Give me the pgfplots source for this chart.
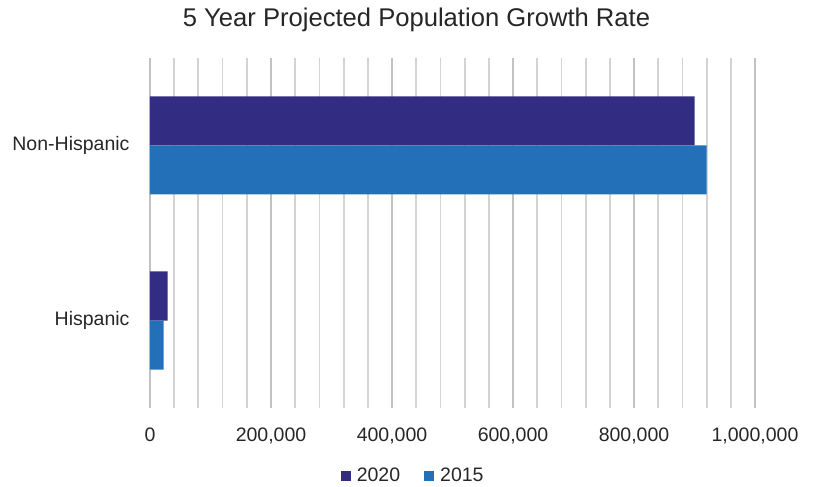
\documentclass[border=0pt]{standalone}
\usepackage{pgfplots}
\pgfplotsset{compat=1.18}
\usepackage{fontspec}
\setmainfont{Liberation Sans}
\definecolor{c2020}{HTML}{332C83}
\definecolor{c2015}{HTML}{2470B8}
\definecolor{txt}{HTML}{262626}
\definecolor{gmaj}{HTML}{C2C2C2}
\definecolor{gmin}{HTML}{D3D3D3}
\begin{document}
\begin{tikzpicture}
\path[use as bounding box] (0,0) rectangle (815pt,487pt);
\node[anchor=base, font=\fontsize{25.6}{30}\selectfont, text=txt] at (416.5pt,460pt) {5 Year Projected Population Growth Rate};
\begin{axis}[
  at={(150pt,79pt)}, anchor=south west,
  scale only axis, width=605pt, height=350pt,
  xbar, bar width=49pt,
  xmin=0, xmax=1000000, ymin=-0.5, ymax=1.5, y dir=reverse,
  ytick={0,1}, yticklabels={Non-Hispanic,Hispanic},
  xtick={0,200000,400000,600000,800000,1000000},
  xticklabels={0,{200,000},{400,000},{600,000},{800,000},{1,000,000}},
  minor x tick num=4,
  scaled x ticks=false,
  tick label style={font=\fontsize{19.5}{23}\selectfont, text=txt},
  xticklabel style={yshift=-16pt},
  yticklabel style={xshift=-17pt},
  major tick length=0pt, minor tick length=0pt,
  axis line style={draw=none},
  xmajorgrids, xminorgrids,
  major grid style={gmaj, line width=2pt},
  minor grid style={gmin, line width=1.8pt},
  legend columns=2,
  legend style={at={(0.435,-0.194)}, anchor=center, draw=none, fill=none,
    font=\fontsize{19.5}{23}\selectfont, text=txt,
    /tikz/every odd column/.append style={column sep=4pt},
    /tikz/every even column/.append style={column sep=22pt}},
  legend image code/.code={\fill[#1,draw=none] (0pt,-5pt) rectangle (10pt,5pt);},
]
\addplot[fill=c2020, draw=none, bar shift=24.5pt] coordinates {(900000,0) (29000,1)};
\addplot[fill=c2015, draw=none, bar shift=-24.5pt] coordinates {(920000,0) (22500,1)};
\legend{2020,2015}
\end{axis}
\end{tikzpicture}
\end{document}
